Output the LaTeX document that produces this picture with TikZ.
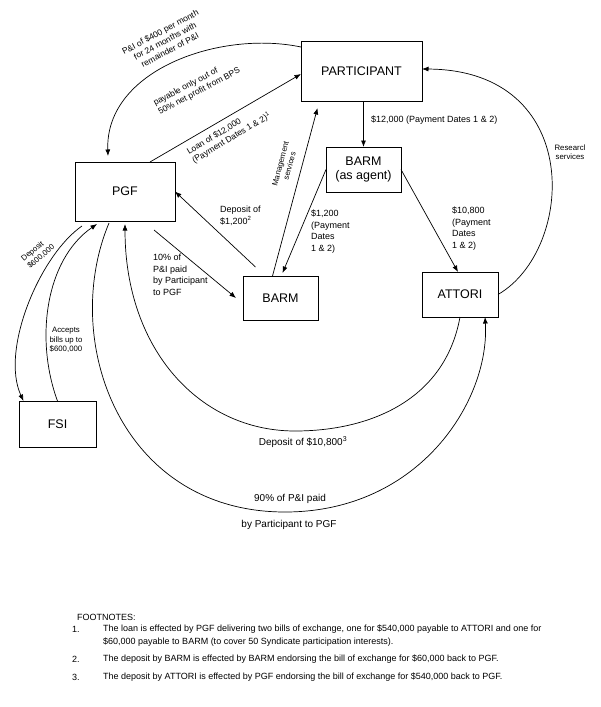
\documentclass[tikz,border=0pt]{standalone}
\usepackage{fontspec}
\setmainfont{Liberation Sans}
\usetikzlibrary{arrows.meta}
\begin{document}
\begin{tikzpicture}[x=1pt,y=-1pt,
  box/.style={draw, line width=0.9pt, inner sep=0pt, outer sep=0pt, align=center, font=\fontsize{12.5}{14.5}\selectfont},
  conn/.style={line width=0.7pt, -{Latex[length=6.5pt,width=5pt]}},
  lbl/.style={inner sep=0pt, font=\fontsize{9}{11.5}\selectfont, align=left},
  rlbl/.style={inner sep=0pt, font=\fontsize{8.5}{10.2}\selectfont},
  tinylbl/.style={inner sep=0pt, font=\fontsize{7.8}{9.5}\selectfont, align=center},
  biglbl/.style={inner sep=0pt, font=\fontsize{10}{12}\selectfont},
  fn/.style={inner sep=0pt, anchor=west, font=\fontsize{9}{11}\selectfont}]
\fill[white] (0,0) rectangle (600,707);
\useasboundingbox (0,0) rectangle (600,707);

% boxes
\node[box, minimum width=121pt, minimum height=60pt] (part) at (361.5,71) {PARTICIPANT};
\node[box, minimum width=75pt, minimum height=45pt] (agent) at (363.5,169.5) {BARM\\(as agent)};
\node[box, minimum width=100pt, minimum height=59pt] (pgf) at (125,191.5) {PGF};
\node[box, minimum width=75pt, minimum height=44pt] (barm) at (280.5,298) {BARM};
\node[box, minimum width=76pt, minimum height=45pt] (attori) at (460,294.5) {ATTORI};
\node[box, minimum width=77pt, minimum height=46pt] (fsi) at (57.5,424) {FSI};

% connectors
\draw[conn] ([yshift=24pt]part.west) .. controls (220,30) and (105,70) .. ([xshift=-17pt,yshift=6pt]pgf.north);
\draw[conn] ([xshift=25pt]pgf.north) -- ([yshift=-3pt]part.west);
\draw[conn] ([xshift=-8pt]barm.north) -- ([xshift=-44pt,yshift=-7pt]part.south);
\draw[conn] (part.south -| agent.north) -- (agent.north);
\draw[conn] (agent.west) -- ([xshift=2pt,yshift=3pt]barm.north);
\draw[conn] (agent.east) -- ([xshift=-2pt]attori.north);
\draw[conn] (attori.east) .. controls (575,250) and (585,70) .. ([yshift=2pt]part.east);
\draw[conn] ([xshift=-25pt,yshift=9pt]barm.north) -- (pgf.east);
\draw[conn] ([xshift=29pt,yshift=-9pt]pgf.south) -- ([xshift=-7pt]barm.west);
\draw[conn] ([xshift=-43pt,yshift=-5pt]pgf.south) .. controls (40,255) and (0,350) .. ([xshift=-34pt]fsi.north);
\draw[conn] (fsi.north) .. controls (35,340) and (45,260) .. ([xshift=-28pt,yshift=-3pt]pgf.south);
\draw[conn] (attori.south) .. controls (445,400) and (370,431) .. (295,431)
            .. controls (200,431) and (125,350) .. ([yshift=-3pt]pgf.south);
\draw[conn] ([xshift=-16pt,yshift=-2pt]pgf.south) .. controls (60,340) and (120,512) .. (285,512)
            .. controls (420,512) and (490,400) .. ([xshift=25pt]attori.south);

% labels
\node[rlbl, rotate=28, align=center] (l1) at (165,41) {P\&I of \$400 per month\\for 24 months with\\remainder of P\&I};
\node[rlbl, rotate=28, align=left] (l2) at (197,87) {payable only out of\\50\% net profit from BPS};
\node[rlbl, rotate=31, align=left] (l3) at (229,134) {Loan of \$12,000\\(Payment Dates 1 \& 2)\textsuperscript{1}};
\node[tinylbl, rotate=75] (l4) at (285,165) {Management\\services};
\node[lbl, anchor=west] (l5) at (371,120) {\$12,000 (Payment Dates 1 \& 2)};
\node[lbl, anchor=north west] (l6) at (311,210) {\$1,200\\(Payment\\Dates\\1 \& 2)};
\node[lbl, anchor=north west] (l7) at (452,207) {\$10,800\\(Payment\\Dates\\1 \& 2)};
\node[tinylbl] (l8) at (570,152) {Researcl\\services};
\node[lbl, anchor=north west] (l9) at (220,206) {Deposit of\\\$1,200\textsuperscript{2}};
\node[lbl, anchor=north west] (l10) at (153,254) {10\% of\\P\&I paid\\by Participant\\to PGF};
\node[tinylbl, rotate=40, align=left] (l11) at (38,253) {Deposit\\\$600,000};
\node[tinylbl] (l12) at (66,340) {Accepts\\bills up to\\\$600,000};
\node[biglbl] (l13) at (303,442) {Deposit of \$10,800\textsuperscript{3}};
\node[biglbl] (l14) at (290,499) {90\% of P\&I paid};
\node[biglbl] (l15) at (289,525) {by Participant to PGF};

% footnotes
\node[fn] (fh) at (77,617) {FOOTNOTES:};
\node[fn] (n1) at (72,629) {1.};
\node[fn] (f1a) at (103,629) {The loan is effected by PGF delivering two bills of exchange, one for \$540,000 payable to ATTORI and one for};
\node[fn] (f1b) at (103,642) {\$60,000 payable to BARM (to cover 50 Syndicate participation interests).};
\node[fn] (n2) at (72,659) {2.};
\node[fn] (f2) at (103,659) {The deposit by BARM is effected by BARM endorsing the bill of exchange for \$60,000 back to PGF.};
\node[fn] (n3) at (72,677) {3.};
\node[fn] (f3) at (103,677) {The deposit by ATTORI is effected by PGF endorsing the bill of exchange for \$540,000 back to PGF.};
\end{tikzpicture}
\end{document}
